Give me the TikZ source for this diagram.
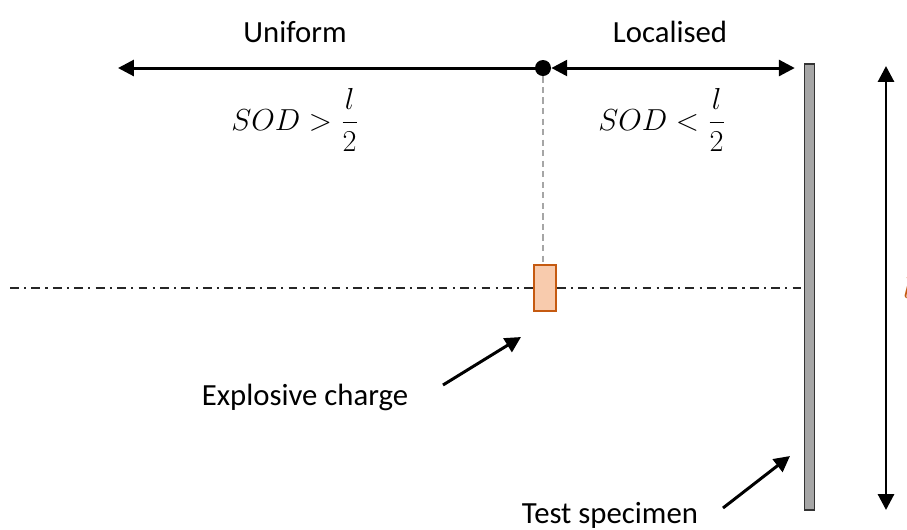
\documentclass[tikz,border=0pt]{standalone}
\usepackage{fontspec}
\setmainfont{Carlito}
\usetikzlibrary{arrows.meta}

\definecolor{chargefill}{HTML}{F8CBAD}
\definecolor{chargeline}{HTML}{C55A11}
\definecolor{platefill}{HTML}{A6A6A6}

\tikzset{
	dimline/.style={line width=1.7pt,{Triangle[length=9pt,width=9pt]}-{Triangle[length=9pt,width=9pt]}},
	pointer/.style={line width=1.7pt,-{Triangle[length=9pt,width=9pt]}},
	lbl/.style={font=\fontsize{17.5}{21}\selectfont,inner sep=0pt},
	centreline/.style={line width=0.9pt,black!85,dash pattern=on 5pt off 3pt on 1.2pt off 3pt},
}

\begin{document}
\begin{tikzpicture}[x=0.02cm,y=-0.02cm]
	\useasboundingbox (0,0) rectangle (907,529);

	% specimen plate and charge
	\node[draw=black!80,fill=platefill,line width=0.8pt,minimum width=0.2cm,minimum height=8.92cm,inner sep=0pt] (plate) at (809.5,287) {};
	\node[draw=chargeline,fill=chargefill,line width=1pt,minimum width=0.44cm,minimum height=0.92cm,inner sep=0pt] (charge) at (545,288) {};
	\node[circle,fill=black,minimum size=0.32cm,inner sep=0pt] (sod) at (543,68) {};

	% axis of the charge
	\coordinate (axisL) at (10,288);
	\draw[centreline] (axisL) -- (charge.west);
	\draw[centreline] (charge.east) -- (plate.west |- charge.east);
	\draw[gray!70,line width=0.7pt,dash pattern=on 3.5pt off 2.5pt] (sod) -- (charge.north -| sod);

	% stand-off ranges
	\coordinate (farL) at (118,68);
	\draw[pointer] (sod.center) -- (farL);
	\draw[dimline] (sod.east) -- ([xshift=-0.18cm]plate.north west |- sod);
	\node[lbl] (uniform) at (295,32) {Uniform};
	\node[lbl] (local) at (670,32) {Localised};
	\node[lbl] (sodfar) at (295,120) {\fontsize{19}{22}\selectfont$SOD>\displaystyle\frac{l}{2}$};
	\node[lbl] (sodnear) at (662,120) {\fontsize{19}{22}\selectfont$SOD<\displaystyle\frac{l}{2}$};

	% plate length
	\coordinate (lenT) at (886,66);
	\coordinate (lenB) at (886,510);
	\draw[dimline] (lenT) -- (lenB);
	\node[lbl,text=chargeline,anchor=west] (len) at (903,288) {$l$};

	% labels with pointers
	\node[lbl] (expl) at (305,397) {Explosive charge};
	\node[lbl] (spec) at (610,515) {Test specimen};
	\coordinate (explA) at (443,385);
	\coordinate (explB) at (521,337);
	\draw[pointer] (explA) -- (explB);
	\coordinate (specA) at (723,508);
	\coordinate (specB) at (790,456);
	\draw[pointer] (specA) -- (specB);
\end{tikzpicture}
\end{document}
